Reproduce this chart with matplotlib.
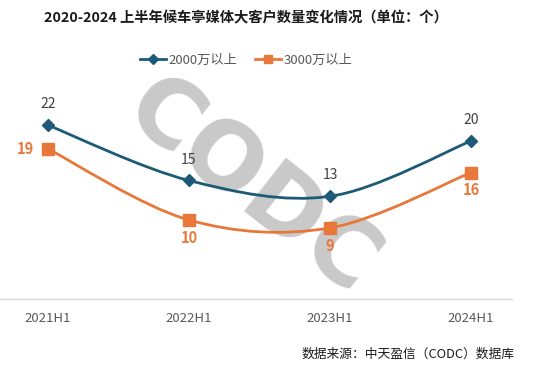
#!/usr/bin/env python3
"""
Big-client count for bus-shelter media, H1 2021-2024, two smoothed lines.
Writes out.png (551x369).
"""
import matplotlib
matplotlib.use("Agg")
import matplotlib.pyplot as plt
from matplotlib.path import Path
from matplotlib.patches import PathPatch
from matplotlib.lines import Line2D

plt.rcParams["font.family"] = ["Noto Sans CJK SC", "DejaVu Sans"]

# --- data ---
periods = ["2021H1", "2022H1", "2023H1", "2024H1"]
over_2000w = [22, 15, 13, 20]
over_3000w = [19, 10, 9, 16]
series_names = ["2000万以上", "3000万以上"]

title = "2020-2024 上半年候车亭媒体大客户数量变化情况（单位：个）"
source = "数据来源：中天盈信（CODC）数据库"

BLUE = "#1d5a78"
ORANGE = "#e8773a"


def smooth_path(xs, ys):
    # Excel-style smoothed line: Catmull-Rom turned into cubic Bezier segments
    pts = list(zip(xs, ys))
    ext = [pts[0]] + pts + [pts[-1]]
    verts = [pts[0]]
    codes = [Path.MOVETO]
    for i in range(1, len(ext) - 2):
        p0, p1, p2, p3 = ext[i - 1], ext[i], ext[i + 1], ext[i + 2]
        c1 = (p1[0] + (p2[0] - p0[0]) / 6, p1[1] + (p2[1] - p0[1]) / 6)
        c2 = (p2[0] - (p3[0] - p1[0]) / 6, p2[1] - (p3[1] - p1[1]) / 6)
        verts += [c1, c2, p2]
        codes += [Path.CURVE4] * 3
    return Path(verts, codes)


fig = plt.figure(figsize=(5.51, 3.69), dpi=100)
W, H = 551, 369
# axes spans pixel x 0..512, y 62..299 (from top)
ax = fig.add_axes([0, (H - 299) / H, 512 / W, (299 - 62) / H])

x = list(range(len(periods)))
ax.set_xlim(-48 / 141, (512 - 48) / 141)
ax.set_ylim(0, 30)

# watermark
ax.text(0.49, 0.47, "CODC", transform=ax.transAxes, fontsize=67, fontweight="bold",
        color="#c9c9c9", rotation=-38, ha="center", va="center", zorder=1,
        family=["DejaVu Sans"])

for ys, col, mk, ms in [(over_2000w, BLUE, "D", 6), (over_3000w, ORANGE, "s", 8)]:
    ax.add_patch(PathPatch(smooth_path(x, ys), facecolor="none", edgecolor=col,
                           lw=2, zorder=3))
    ax.plot(x, ys, ls="none", marker=mk, ms=ms, color=col, zorder=4)

# data labels
for i, v in enumerate(over_2000w):
    ax.annotate(str(v), (i, v), xytext=(0, 10), textcoords="offset points",
                ha="center", va="bottom", fontsize=10, color="#404040", zorder=5)
for i, v in enumerate(over_3000w):
    if i == 0:
        ax.annotate(str(v), (i, v), xytext=(-10, 0), textcoords="offset points",
                    ha="right", va="center", fontsize=10.5, fontweight="bold",
                    color=ORANGE, zorder=5)
    else:
        ax.annotate(str(v), (i, v), xytext=(0, -7), textcoords="offset points",
                    ha="center", va="top", fontsize=10.5, fontweight="bold",
                    color=ORANGE, zorder=5)

ax.set_xticks(x)
ax.set_xticklabels(periods, fontsize=9.5, color="#595959")
ax.tick_params(axis="x", length=0, pad=9)
ax.set_yticks([])
for s in ["top", "right", "left"]:
    ax.spines[s].set_visible(False)
ax.spines["bottom"].set_color("#d9d9d9")
ax.spines["bottom"].set_linewidth(1)

fig.text(246 / W, 1 - 18 / H, title, ha="center", va="center", fontsize=10.3,
         fontweight="bold", color="#1a1a1a")

handles = [Line2D([], [], color=BLUE, lw=2, marker="D", ms=5),
           Line2D([], [], color=ORANGE, lw=2, marker="s", ms=6)]
fig.legend(handles, series_names, loc="center", bbox_to_anchor=(246 / W, 1 - 60 / H),
           ncol=2, frameon=False, fontsize=9.5, handlelength=2.0, columnspacing=1.3,
           handletextpad=0.2, labelcolor="#595959")

fig.text(515 / W, 1 - 354 / H, source, ha="right", va="center", fontsize=9.2,
         color="#1a1a1a")

fig.savefig("out.png", dpi=100)
